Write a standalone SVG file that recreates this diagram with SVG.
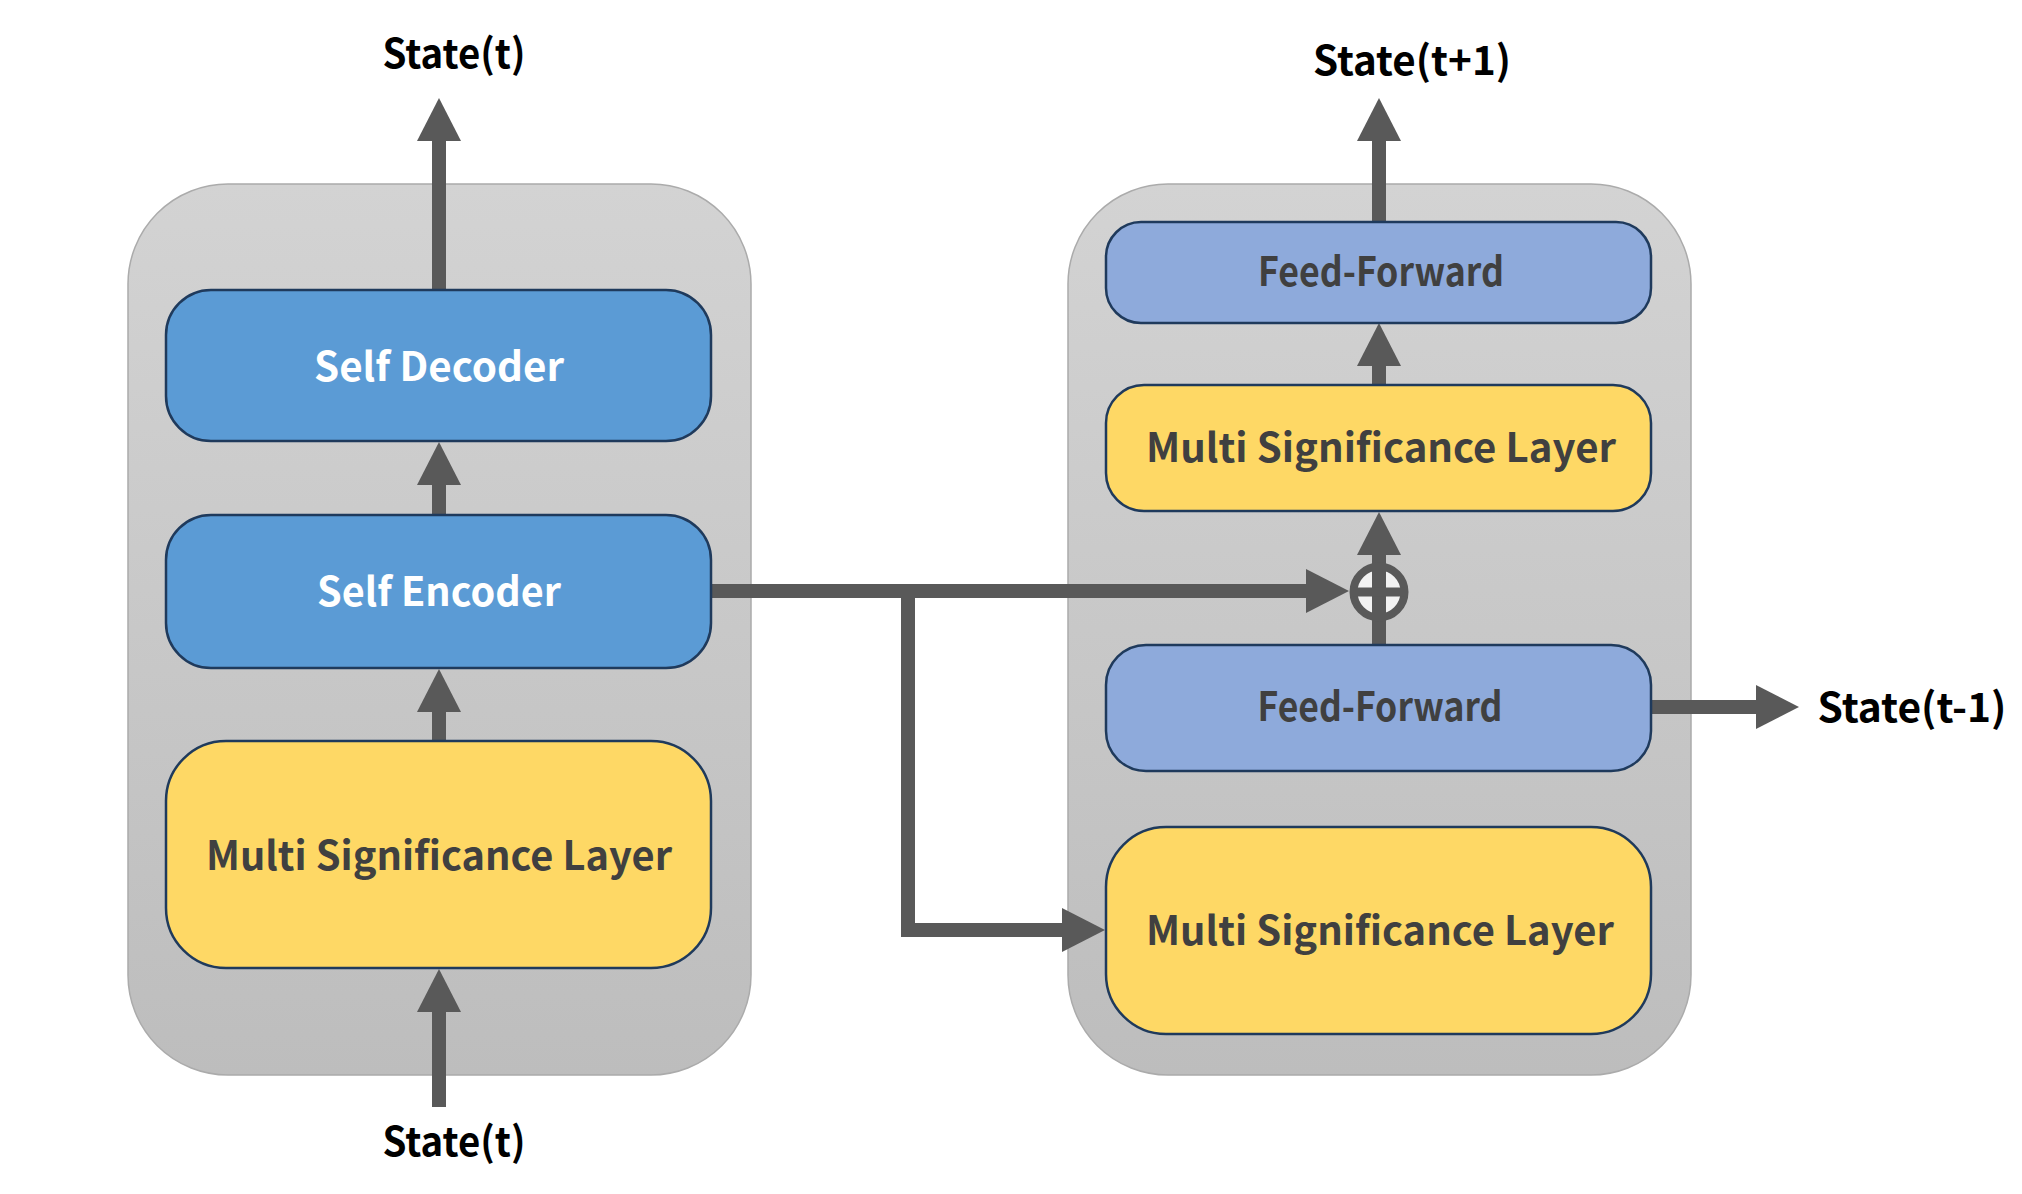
<svg xmlns="http://www.w3.org/2000/svg" width="2022" height="1194" viewBox="0 0 2022 1194">
<defs>
<linearGradient id="bg" x1="0" y1="0" x2="0" y2="1">
<stop offset="0" stop-color="#d3d3d3"/>
<stop offset="1" stop-color="#bdbdbd"/>
</linearGradient>
<marker id="ah" viewBox="0 0 43 44" refX="1" refY="22" markerWidth="43" markerHeight="44" markerUnits="userSpaceOnUse" orient="auto">
<path d="M0,0 L43,22 L0,44 Z" fill="#595959"/>
</marker>
</defs>
<style>
.cont{fill:url(#bg);stroke:#ababab;stroke-width:1.5}
.node{stroke:#1f3a5c;stroke-width:2.5}
.blue{fill:#5b9bd5}
.ff{fill:#8eaadb}
.yel{fill:#fed865}
.t{font-family:"Noto Sans CJK SC","Noto Sans",sans-serif;font-weight:700;font-size:40px;text-anchor:middle}
.tw{fill:#ffffff}
.td{fill:#404040}
.tl{fill:#000000}
.c{fill:none;stroke:#595959;stroke-width:14}
</style>
<rect width="2022" height="1194" fill="#ffffff"/>
<g id="left-block"><rect class="cont" x="128" y="184" width="623" height="891" rx="100"/></g>
<g id="right-block"><rect class="cont" x="1068" y="184" width="623" height="891" rx="100"/></g>
<g id="connectors">
<path class="c" d="M439,290 V140" marker-end="url(#ah)"/>
<path class="c" d="M439,515 V484" marker-end="url(#ah)"/>
<path class="c" d="M439,741 V711" marker-end="url(#ah)"/>
<path class="c" d="M439,1107 V1011" marker-end="url(#ah)"/>
<path class="c" d="M711,591 H1307" marker-end="url(#ah)"/>
<path class="c" d="M908,591 V930 H1063" marker-end="url(#ah)"/>
<path class="c" d="M1379,645 V562"/>
<path class="c" d="M1379,563 V554" marker-end="url(#ah)"/>
<path class="c" d="M1379,385 V365" marker-end="url(#ah)"/>
<path class="c" d="M1379,222 V140" marker-end="url(#ah)"/>
<path class="c" d="M1651,707 H1757" marker-end="url(#ah)"/>
</g>
<g id="plus">
<circle cx="1379" cy="592" r="25.5" fill="#f2f2f2" stroke="#595959" stroke-width="8"/>
<line x1="1379" y1="566" x2="1379" y2="618" stroke="#595959" stroke-width="14"/>
<line x1="1353" y1="592" x2="1405" y2="592" stroke="#595959" stroke-width="9"/>
</g>
<g id="self-decoder"><rect class="node blue" x="166" y="290" width="545" height="151" rx="45"/><text class="t tw" x="439" y="381" textLength="250" lengthAdjust="spacingAndGlyphs">Self Decoder</text></g>
<g id="self-encoder"><rect class="node blue" x="166" y="515" width="545" height="153" rx="45"/><text class="t tw" x="439" y="606" textLength="244" lengthAdjust="spacingAndGlyphs">Self Encoder</text></g>
<g id="msl-left"><rect class="node yel" x="166" y="741" width="545" height="227" rx="60"/><text class="t td" x="439" y="870" textLength="466" lengthAdjust="spacingAndGlyphs">Multi Significance Layer</text></g>
<g id="ff-top"><rect class="node ff" x="1106" y="222" width="545" height="101" rx="35"/><text class="t td" x="1381" y="286" textLength="246" lengthAdjust="spacingAndGlyphs">Feed-Forward</text></g>
<g id="msl-top"><rect class="node yel" x="1106" y="385" width="545" height="126" rx="38"/><text class="t td" x="1381" y="462" textLength="470" lengthAdjust="spacingAndGlyphs">Multi Significance Layer</text></g>
<g id="ff-mid"><rect class="node ff" x="1106" y="645" width="545" height="126" rx="40"/><text class="t td" x="1380" y="721" textLength="245" lengthAdjust="spacingAndGlyphs">Feed-Forward</text></g>
<g id="msl-bottom"><rect class="node yel" x="1106" y="827" width="545" height="207" rx="60"/><text class="t td" x="1380" y="945" textLength="468" lengthAdjust="spacingAndGlyphs">Multi Significance Layer</text></g>
<g id="labels">
<text class="t tl" x="454" y="68" textLength="143" lengthAdjust="spacingAndGlyphs">State(t)</text>
<text class="t tl" x="454" y="1156" textLength="143" lengthAdjust="spacingAndGlyphs">State(t)</text>
<text class="t tl" x="1412" y="75" textLength="198" lengthAdjust="spacingAndGlyphs">State(t+1)</text>
<text class="t tl" x="1912" y="722" textLength="189" lengthAdjust="spacingAndGlyphs">State(t-1)</text>
</g>
</svg>
